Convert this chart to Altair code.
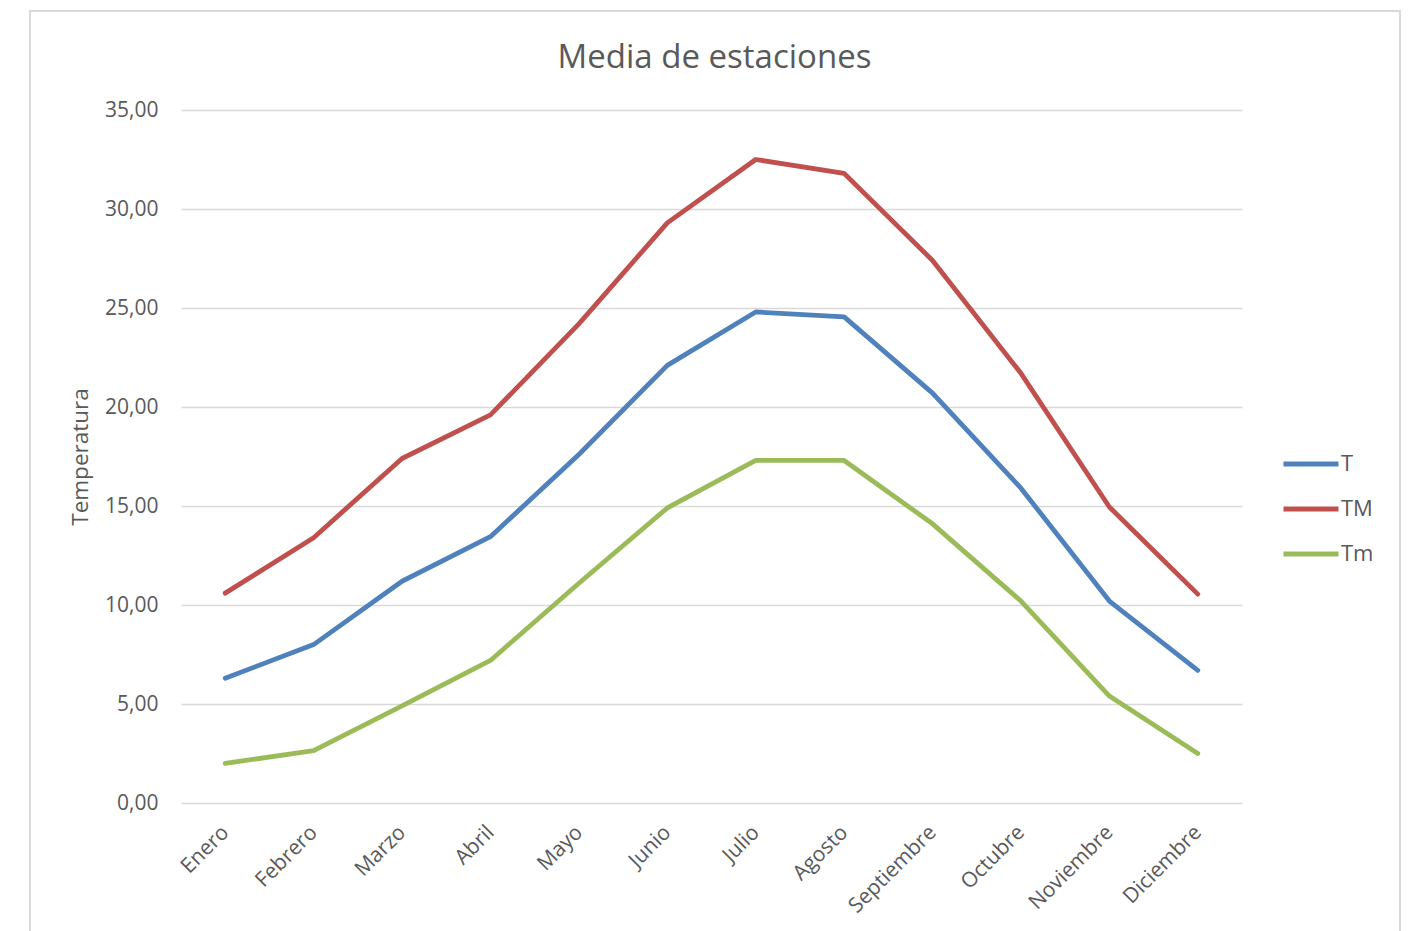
import altair as alt
import pandas as pd

# Monthly average temperatures per series
meses = ["Enero", "Febrero", "Marzo", "Abril", "Mayo", "Junio", "Julio",
         "Agosto", "Septiembre", "Octubre", "Noviembre", "Diciembre"]
t_media = [6.3, 8.0, 11.2, 13.45, 17.6, 22.1, 24.8, 24.55, 20.7, 15.9, 10.2, 6.7]
t_max = [10.6, 13.4, 17.4, 19.6, 24.2, 29.3, 32.5, 31.8, 27.4, 21.7, 14.95, 10.55]
t_min = [2.0, 2.65, 4.9, 7.2, 11.1, 14.9, 17.3, 17.3, 14.1, 10.2, 5.4, 2.5]

series = ["T", "TM", "Tm"]
colores = ["#4F81BD", "#C0504D", "#9BBB59"]

rows = []
for nombre, valores in zip(series, [t_media, t_max, t_min]):
    for mes, v in zip(meses, valores):
        rows.append({"Mes": mes, "Serie": nombre, "Valor": v})
df = pd.DataFrame(rows)

FONT = "Open Sans"
GREY = "#595959"
GRID = "#D9D9D9"

lineas = alt.Chart(df).mark_line(strokeWidth=4.8, strokeCap="round", strokeJoin="round").encode(
    x=alt.X("Mes:N", sort=meses,
            scale=alt.Scale(type="point", padding=0.5),
            axis=alt.Axis(title=None, labelAngle=-45, labelAlign="right",
                          labelBaseline="middle", labelPadding=26,
                          labelFontSize=21, labelColor=GREY, labelFont=FONT,
                          ticks=False, domain=False, grid=False)),
    y=alt.Y("Valor:Q",
            scale=alt.Scale(domain=[0, 35], nice=False),
            axis=alt.Axis(title="Temperatura", values=[0, 5, 10, 15, 20, 25, 30, 35],
                          labelExpr="replace(format(datum.value, '.2f'), '.', ',')",
                          labelFontSize=21, labelColor=GREY, labelFont=FONT,
                          labelPadding=23, titleFontSize=22.5, titleColor=GREY,
                          titleFont=FONT, titleFontWeight="normal", titlePadding=12,
                          ticks=False, domain=False, gridColor=GRID, gridWidth=1.5)),
    color=alt.Color("Serie:N", sort=series,
                    scale=alt.Scale(domain=series, range=colores),
                    legend=alt.Legend(title=None, orient="none", legendX=1119, legendY=343,
                                      symbolType="M-5.5,0H5.5", symbolSize=100,
                                      symbolStrokeWidth=4.8, labelOffset=19,
                                      rowPadding=23, labelFontSize=22,
                                      labelColor=GREY, labelFont=FONT)),
)

# Outer chart frame
marco = alt.Chart(alt.Data(values=[{}])).mark_rect(
    fill="transparent", stroke=GRID, strokeWidth=2
).encode(
    x=alt.value(-151), x2=alt.value(1219), y=alt.value(-99), y2=alt.value(840)
)

chart = alt.layer(marco, lineas).properties(
    width=1061, height=693,
    background="white",
    title=alt.TitleParams("Media de estaciones", fontSize=33, font=FONT,
                          color=GREY, fontWeight="normal", anchor="middle",
                          frame="group", offset=0, dy=65, dx=3),
    autosize=alt.AutoSizeParams(type="none"),
    padding={"left": 181, "top": 110, "right": 172, "bottom": 128},
).configure_view(strokeWidth=0)

chart.save("out.html", embed_options={"renderer": "svg", "actions": False})
